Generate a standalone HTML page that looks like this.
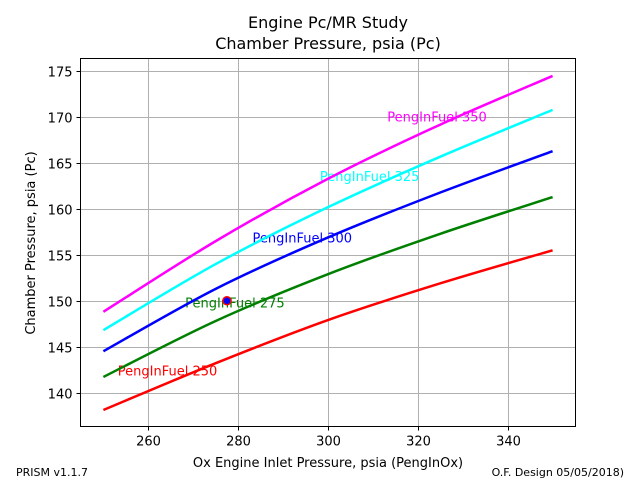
<!DOCTYPE html>
<html><head><meta charset="utf-8"><style>
body{margin:0;background:#fff;}
svg{display:block;font-family:"DejaVu Sans","Liberation Sans",sans-serif;}
</style></head><body>
<svg id="chart" width="640" height="480" xmlns="http://www.w3.org/2000/svg">
<rect width="640" height="480" fill="#fff"/>
<text x="328" y="28" text-anchor="middle" font-size="16">Engine Pc/MR Study</text>
<text x="328" y="49" text-anchor="middle" font-size="16">Chamber Pressure, psia (Pc)</text>
<g id="grid"></g>
<g id="series"></g>
<rect x="80.5" y="58.5" width="495" height="368" fill="none" stroke="#000" stroke-width="1"/>
<g id="ticks"></g>
<text x="328" y="467" text-anchor="middle" font-size="13">Ox Engine Inlet Pressure, psia (PengInOx)</text>
<text transform="translate(35,243) rotate(-90)" text-anchor="middle" font-size="13">Chamber Pressure, psia (Pc)</text>
<text x="16" y="476" font-size="11">PRISM v1.1.7</text>
<text x="624" y="476" font-size="11" text-anchor="end">O.F. Design 05/05/2018)</text>
</svg>
<script>
const xValues=[250,275,300,325,350];
const fuel250=[138.1,143.2,147.9,151.9,155.5];
const fuel275=[141.7,147.8,152.9,157.3,161.3];
const fuel300=[144.5,151.3,156.9,161.8,166.3];
const fuel325=[146.8,154.0,160.2,165.7,170.8];
const fuel350=[148.8,156.5,163.3,169.2,174.5];
const seriesNames=["PengInFuel 250","PengInFuel 275","PengInFuel 300","PengInFuel 325","PengInFuel 350"];
const labelX=[253.2,268.2,283.2,298.2,313.2];
const labelY=[142.4,149.8,156.9,163.6,170.1];
const xTicks=[260,280,300,320,340];
const yTicks=[140,145,150,155,160,165,170,175];
const markerPoint=[277.5,150];

const X0=80.5,X1=575.5,Y0=426.5,Y1=58.5;
const xMin=244.9,xMax=355.1,yMin=136.3,yMax=176.4;
const sx=v=>X0+(v-xMin)/(xMax-xMin)*(X1-X0);
const sy=v=>Y0-(v-yMin)/(yMax-yMin)*(Y0-Y1);
const NS="http://www.w3.org/2000/svg";
const mk=(t,a,p)=>{const e=document.createElementNS(NS,t);for(const k in a)e.setAttribute(k,a[k]);p.appendChild(e);return e;};
const grid=document.getElementById('grid'),ticks=document.getElementById('ticks'),ser=document.getElementById('series');
xTicks.forEach(v=>{
 const x=Math.round(sx(v))+0.5;
 const g=mk('line',{x1:x,x2:x,y1:Y1,y2:Y0,stroke:'#b0b0b0','stroke-width':1},grid);
 
 
 const t=mk('line',{x1:x,x2:x,y1:Y0,y2:Y0+4,stroke:'#000'},ticks);
 
 
 const l=mk('text',{x:x,y:Y0+19,'text-anchor':'middle','font-size':13,fill:'#000'},ticks);l.textContent=v;
 
 
});
yTicks.forEach(v=>{
 const y=Math.round(sy(v))+0.5;
 const g=mk('line',{x1:X0,x2:X1,y1:y,y2:y,stroke:'#b0b0b0','stroke-width':1},grid);
 
 
 const t=mk('line',{x1:X0-4,x2:X0,y1:y,y2:y,stroke:'#000'},ticks);
 
 
 const l=mk('text',{x:X0-8,y:y+5,'text-anchor':'end','font-size':13,fill:'#000'},ticks);l.textContent=v;
 
 
});
const all=[fuel250,fuel275,fuel300,fuel325,fuel350];
const colors=['#ff0000','#008000','#0000ff','#00ffff','#ff00ff'];
all.forEach((arr,i)=>{
 const p=xValues.map((x,j)=>[sx(x),sy(arr[j])]);
 let d='M'+p[0][0]+','+p[0][1];
 for(let j=0;j<p.length-1;j++){
  const a=p[j-1]||p[j],b=p[j],c=p[j+1],e=p[j+2]||c;
  const c1=[b[0]+(c[0]-a[0])/6,b[1]+(c[1]-a[1])/6],c2=[c[0]-(e[0]-b[0])/6,c[1]-(e[1]-b[1])/6];
  d+=' C'+c1+' '+c2+' '+c;
 }
 const path=mk('path',{d:d,fill:'none',stroke:colors[i],'stroke-width':2.5},ser);
 
 
 const lb=mk('text',{x:sx(labelX[i]),y:sy(labelY[i])+5,'font-size':13,fill:colors[i]},ser);lb.textContent=seriesNames[i];
 
 
});
const m=mk('circle',{cx:sx(markerPoint[0]),cy:sy(markerPoint[1]),r:4,fill:'#0000ff',stroke:'#ff0000','stroke-width':1.5},ser);


</script>
</body></html>
